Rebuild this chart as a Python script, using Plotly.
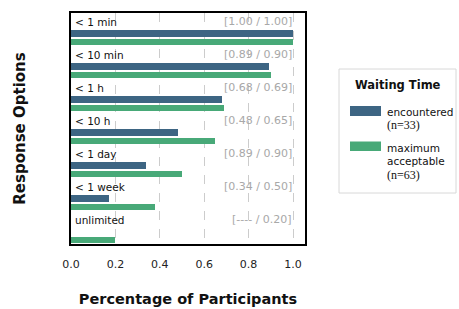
import plotly.graph_objects as go

categories = ["< 1 min", "< 10 min", "< 1 h", "< 10 h", "< 1 day", "< 1 week", "unlimited"]
encountered = [1.00, 0.89, 0.68, 0.48, 0.34, 0.17, 0.0]
maximum_acceptable = [1.00, 0.90, 0.69, 0.65, 0.50, 0.38, 0.20]
bracket_labels = ["[1.00 / 1.00]", "[0.89 / 0.90]", "[0.68 / 0.69]", "[0.48 / 0.65]",
                  "[0.89 / 0.90]", "[0.34 / 0.50]", "[---- / 0.20]"]
x_ticks = [0.0, 0.2, 0.4, 0.6, 0.8, 1.0]
series_names = ["encountered", "maximum acceptable"]
series_n = [33, 63]

BLUE = "#3d6583"
GREEN = "#48a978"

W, H = 459, 309
# plot area in page pixels
L, R, T, B = 71, 305, 13, 244


def pxx(x):
    return (x - L) / (R - L)


def pxy(y):
    return (B - y) / (B - T)


n = len(categories)
pos = list(range(n))

fig = go.Figure()
fig.add_trace(go.Bar(
    y=[p + 0.63 for p in pos], x=encountered, orientation="h", width=0.2,
    marker=dict(color=BLUE, line=dict(width=0)), name=series_names[0], showlegend=False,
    hoverinfo="x"))
fig.add_trace(go.Bar(
    y=[p + 0.875 for p in pos], x=maximum_acceptable, orientation="h", width=0.2,
    marker=dict(color=GREEN, line=dict(width=0)), name=series_names[1], showlegend=False,
    hoverinfo="x"))

annotations = []
for p, cat, lab in zip(pos, categories, bracket_labels):
    annotations.append(dict(x=0, y=p + 0.26, xref="x", yref="y", text=cat, showarrow=False,
                            xanchor="left", yanchor="middle", xshift=2,
                            font=dict(family="DejaVu Sans", size=10.5, color="#111111")))
    annotations.append(dict(x=1.0, y=p + 0.26, xref="x", yref="y", text=lab, showarrow=False,
                            xanchor="right", yanchor="middle", xshift=1,
                            font=dict(family="DejaVu Sans", size=11, color="#a8a8a8")))

# manual legend
shapes = [dict(type="rect", xref="paper", yref="paper", x0=pxx(339), x1=pxx(456),
               y0=pxy(193), y1=pxy(69), line=dict(color="#d8d8d8", width=1),
               fillcolor="white", layer="above")]
annotations.append(dict(x=pxx(398), y=pxy(85), xref="paper", yref="paper", text="<b>Waiting Time</b>",
                        showarrow=False, xanchor="center", yanchor="middle",
                        font=dict(family="DejaVu Sans", size=11.5, color="#111111")))
shapes.append(dict(type="rect", xref="paper", yref="paper", x0=pxx(350), x1=pxx(381),
                   y0=pxy(116), y1=pxy(106), fillcolor=BLUE, line=dict(width=0), layer="above"))
shapes.append(dict(type="rect", xref="paper", yref="paper", x0=pxx(350), x1=pxx(381),
                   y0=pxy(151), y1=pxy(141.5), fillcolor=GREEN, line=dict(width=0), layer="above"))
legend_lines = [
    ("encountered", 111.5, "DejaVu Sans", 10.5),
    ("(n=%d)" % series_n[0], 125, "Liberation Serif", 12),
    ("maximum", 148, "DejaVu Sans", 10.5),
    ("acceptable", 161.5, "DejaVu Sans", 10.5),
    ("(n=%d)" % series_n[1], 175, "Liberation Serif", 12),
]
for txt, yy, fam, fs in legend_lines:
    annotations.append(dict(x=pxx(385), y=pxy(yy), xref="paper", yref="paper", text=txt,
                            showarrow=False, xanchor="left", yanchor="middle",
                            font=dict(family=fam, size=fs, color="#111111")))

fig.update_layout(
    width=W, height=H,
    margin=dict(l=L, r=W - R, t=T, b=H - B, pad=0, autoexpand=False),
    plot_bgcolor="white", paper_bgcolor="white",
    barmode="overlay", bargap=0,
    showlegend=False,
    annotations=annotations, shapes=shapes,
    font=dict(family="DejaVu Sans", color="#111111"),
)
fig.update_xaxes(
    range=[0, 1.054], tickvals=x_ticks, tickformat=".1f", automargin=False,
    ticks="outside", ticklen=9, tickcolor="rgba(0,0,0,0)",
    tickfont=dict(family="DejaVu Sans", size=11, color="#222222"),
    showgrid=True, gridcolor="#cccccc", griddash="dash", gridwidth=1,
    zeroline=False, showline=True, linecolor="black", linewidth=2, mirror=True,
    title=dict(text="<b>Percentage of Participants</b>", font=dict(family="DejaVu Sans", size=14.5),
               standoff=24),
)
fig.update_yaxes(
    range=[n, 0], showticklabels=False, ticks="", showgrid=False, zeroline=False, automargin=False,
    showline=True, linecolor="black", linewidth=2, mirror=True,
    title=dict(text="<b>Response Options</b>", font=dict(family="DejaVu Sans", size=15),
               standoff=40),
)

fig.write_html("out.html", config={"displayModeBar": False},
               post_script="document.body.style.margin='0';document.body.style.overflow='hidden';")
